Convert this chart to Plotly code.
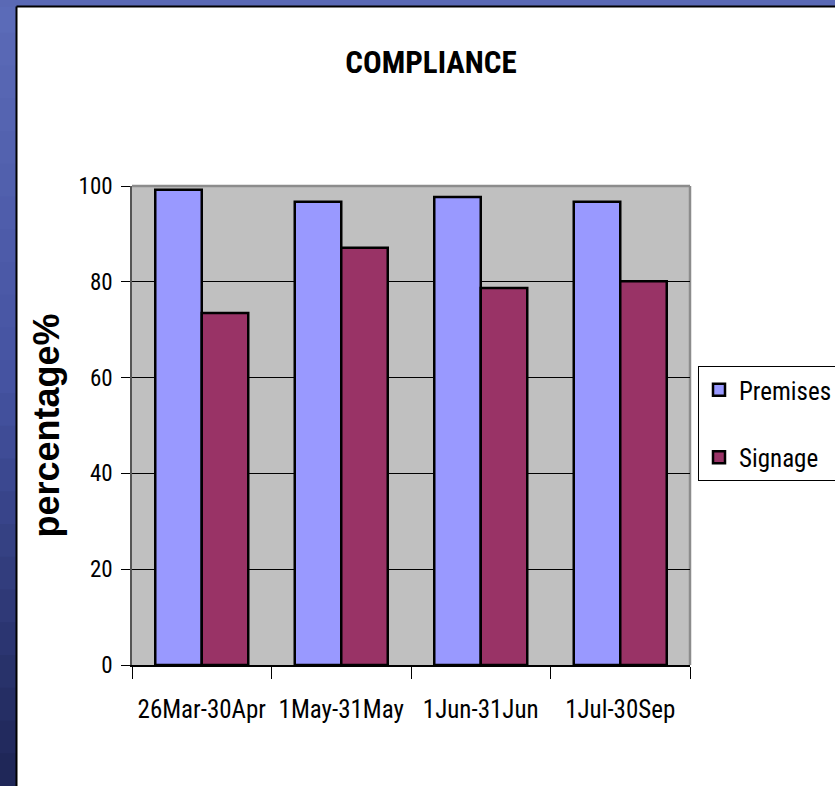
import plotly.graph_objects as go

categories = ["26Mar-30Apr", "1May-31May", "1Jun-31Jun", "1Jul-30Sep"]
premises = [99.2, 96.7, 97.7, 96.7]
signage = [73.5, 87.1, 78.7, 80.1]
y_ticks = [0, 20, 40, 60, 80, 100]

W, H = 835, 786
L, R, T, B = 132, 690, 186, 665
pw, ph = R - L, B - T

def px(x):
    return (x - L) / pw

def py(y):
    return (B - y) / ph

FONT = "Roboto Condensed, Liberation Sans, Arial, sans-serif"

fig = go.Figure()
fig.add_trace(go.Bar(name="Premises", x=categories, y=premises,
                     marker=dict(color="#9999ff", line=dict(color="black", width=2.5)),
                     legendgroup="a"))
fig.add_trace(go.Bar(name="Signage", x=categories, y=signage,
                     marker=dict(color="#993366", line=dict(color="black", width=2.5)),
                     legendgroup="b"))

shapes = []
# blue slide background strips (left and top)
top_c = (0x5b, 0x6b, 0xb8)
mid_c = (0x44, 0x52, 0xa0)
bot_c = (0x1f, 0x27, 0x58)
n = 24
for i in range(n):
    t = i / (n - 1)
    if t < 0.5:
        a, b, u = top_c, mid_c, t / 0.5
    else:
        a, b, u = mid_c, bot_c, (t - 0.5) / 0.5
    c = tuple(int(a[k] + (b[k] - a[k]) * u) for k in range(3))
    y0 = i * H / n
    y1 = (i + 1) * H / n + 1
    shapes.append(dict(type="rect", xref="paper", yref="paper",
                       x0=px(-2), x1=px(17), y0=py(y1), y1=py(y0),
                       fillcolor="rgb(%d,%d,%d)" % c, line=dict(width=0), layer="above"))
shapes.append(dict(type="rect", xref="paper", yref="paper",
                   x0=px(-2), x1=px(W + 2), y0=py(7), y1=py(-2),
                   fillcolor="#5a69b5", line=dict(width=0), layer="above"))
# black edge of the white chart area
shapes.append(dict(type="line", xref="paper", yref="paper",
                   x0=px(16.5), x1=px(16.5), y0=py(H + 2), y1=py(6.5),
                   line=dict(color="black", width=2), layer="above"))
shapes.append(dict(type="line", xref="paper", yref="paper",
                   x0=px(16.5), x1=px(W + 2), y0=py(6.5), y1=py(6.5),
                   line=dict(color="black", width=2), layer="above"))
# plot-area border (grey, top and right)
shapes.append(dict(type="line", xref="paper", yref="paper",
                   x0=0, x1=1, y0=1, y1=1,
                   line=dict(color="#8c8c8c", width=2.5), layer="below"))
shapes.append(dict(type="line", xref="paper", yref="paper",
                   x0=1, x1=1, y0=0, y1=1,
                   line=dict(color="#8c8c8c", width=2.5), layer="below"))

fig.update_layout(
    width=W, height=H,
    margin=dict(l=L, r=W - R, t=T, b=H - B, pad=0, autoexpand=False),
    paper_bgcolor="white",
    plot_bgcolor="#c0c0c0",
    barmode="group",
    bargap=1 / 3,
    bargroupgap=0,
    font=dict(family=FONT, color="black", size=25),
    title=dict(text="<b>COMPLIANCE</b>", x=431 / W, xref="container",
               xanchor="center", y=1 - 62 / H, yanchor="middle", yref="container",
               font=dict(family=FONT, size=31, color="black", weight="bold")),
    xaxis=dict(type="category", showline=True, linecolor="black", linewidth=1.5,
               ticks="outside", ticklen=12, tickcolor="black", tickwidth=1,
               tickson="boundaries", showgrid=False, tickangle=0,
               tickfont=dict(family=FONT, size=25, color="black"),
               ticklabelstandoff=21),
    yaxis=dict(range=[0, 100], tickvals=y_ticks, showline=True, linecolor="#555555",
               linewidth=1.5, ticks="outside", ticklen=9, tickcolor="black",
               tickwidth=1, showgrid=True, gridcolor="black", gridwidth=1,
               zeroline=False,
               tickfont=dict(family=FONT, size=23, color="black"),
               ticklabelstandoff=4,
               title=dict(text="<b>percentage%</b>", standoff=8,
                          font=dict(family="Liberation Sans, Arial, sans-serif",
                                    size=36, color="black"))),
    legend=dict(x=px(698), xanchor="left", y=py(366), yanchor="top",
                bgcolor="white", bordercolor="black", borderwidth=1,
                font=dict(family=FONT, size=25, color="black"),
                tracegroupgap=32, traceorder="grouped"),
    shapes=shapes,
)

fig.write_html("out.html", config={"displayModeBar": False},
               post_script="document.body.style.margin='0px';")
